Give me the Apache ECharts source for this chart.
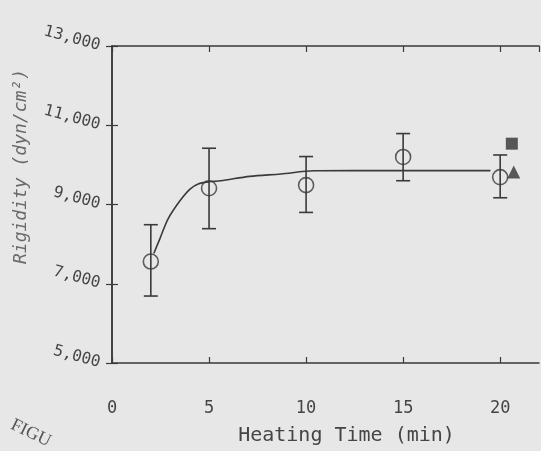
<!DOCTYPE html>
<html>
<head>
<meta charset="utf-8">
<script src="https://cdn.jsdelivr.net/npm/echarts@6/dist/echarts.min.js"></script>
<style>
html,body{margin:0;padding:0;background:#e7e7e7;}
#chart{width:541px;height:451px;}
</style>
</head>
<body>
<div id="chart"></div>
<script>
// Data
const timeMin = [2, 5, 10, 15, 20];
const rigidityMean = [7560, 9410, 9490, 10200, 9690];
const rigidityHigh = [8490, 10420, 10210, 10790, 10250];
const rigidityLow = [6690, 8390, 8800, 9600, 9170];

const squareTime = [20.6];
const squareValue = [10535];
const triangleTime = [20.7];
const triangleValue = [9820];

const curveTime = [2.16, 2.47, 2.89, 3.51, 4.02, 4.44, 5.0, 5.6, 7.1, 8.7, 10.4, 12.5, 15, 17.5, 19.5];
const curveRigidity = [7770, 8140, 8640, 9100, 9390, 9520, 9575, 9600, 9710, 9770, 9850, 9855, 9855, 9855, 9855];

const xTicks = [0, 5, 10, 15, 20];
const yTicks = [5000, 7000, 9000, 11000, 13000];

const ink = '#3a3a3a';
const textInk = '#454545';
const mono = '"DejaVu Sans Mono", "Liberation Mono", monospace';

const chart = echarts.init(document.getElementById('chart'), null, {renderer: 'canvas'});

const meanPts = timeMin.map((t, i) => [t, rigidityMean[i]]);
const errPts = timeMin.map((t, i) => [t, rigidityLow[i], rigidityHigh[i]]);
const curvePts = curveTime.map((t, i) => [t, curveRigidity[i]]);

const xBase = {
  type: 'value', min: 0, max: 22, interval: 5,
  axisLine: {show: true, lineStyle: {color: ink, width: 1.5}},
  axisTick: {show: true, inside: true, length: 6, lineStyle: {color: ink, width: 1.2}},
  splitLine: {show: false}
};
const yBase = {
  type: 'value', min: 5000, max: 13000, interval: 2000,
  axisLine: {show: true, lineStyle: {color: ink, width: 1.5}},
  axisTick: {show: true, inside: true, length: 6, lineStyle: {color: ink, width: 1.2}},
  splitLine: {show: false}
};

chart.setOption({
  backgroundColor: '#e7e7e7',
  animation: false,
  grid: {left: 112, top: 46, right: 2, bottom: 85, containLabel: false},
  xAxis: [
    Object.assign({}, xBase, {
      position: 'bottom',
      name: 'Heating Time (min)',
      nameLocation: 'middle',
      nameGap: 63,
      nameTextStyle: {fontFamily: mono, fontSize: 20, color: textInk, padding: [0, 0, 0, 42]},
      axisLabel: {
        show: true, margin: 37, fontFamily: mono, fontSize: 17, color: textInk,
        showMaxLabel: false,
        formatter: v => (xTicks.indexOf(v) >= 0 ? String(v) : '')
      }
    }),
    Object.assign({}, xBase, {position: 'top', axisLabel: {show: false}})
  ],
  yAxis: [
    Object.assign({}, yBase, {
      position: 'left',
      name: 'Rigidity (dyn/cm²)',
      nameLocation: 'middle',
      nameRotate: 90,
      nameGap: 82,
      nameTextStyle: {fontFamily: mono, fontStyle: 'italic', fontSize: 18, color: '#6a6a6a', padding: [0, 0, 0, 76]},
      axisLabel: {
        show: true, margin: 12, fontFamily: mono, fontSize: 16, color: textInk, rotate: -15,
        formatter: v => (yTicks.indexOf(v) >= 0 ? v.toLocaleString('en-US') : '')
      }
    }),
    Object.assign({}, yBase, {position: 'right', axisLabel: {show: false}})
  ],
  graphic: [{
    type: 'text', left: 8, top: 416, rotation: -0.45,
    style: {text: 'FIGU', font: '18px "Liberation Serif", serif', fill: '#555'}
  }],
  series: [
    {
      type: 'line', data: curvePts, smooth: 0.3, showSymbol: false,
      lineStyle: {color: ink, width: 1.6}, z: 2
    },
    {
      type: 'custom', data: errPts, z: 3,
      renderItem: function (params, api) {
        const x = api.value(0);
        const lo = api.coord([x, api.value(1)]);
        const hi = api.coord([x, api.value(2)]);
        const cap = 7;
        const st = {stroke: ink, lineWidth: 1.6};
        return {
          type: 'group',
          children: [
            {type: 'line', shape: {x1: lo[0], y1: lo[1], x2: hi[0], y2: hi[1]}, style: st},
            {type: 'line', shape: {x1: lo[0] - cap, y1: lo[1], x2: lo[0] + cap, y2: lo[1]}, style: st},
            {type: 'line', shape: {x1: hi[0] - cap, y1: hi[1], x2: hi[0] + cap, y2: hi[1]}, style: st}
          ]
        };
      }
    },
    {
      type: 'scatter', data: meanPts, symbol: 'circle', symbolSize: 15, z: 4,
      itemStyle: {color: 'rgba(0,0,0,0)', borderColor: ink, borderWidth: 1.6}
    },
    {
      type: 'scatter', data: squareTime.map((t, i) => [t, squareValue[i]]),
      symbol: 'rect', symbolSize: 12, z: 4,
      itemStyle: {color: '#333'}
    },
    {
      type: 'scatter', data: triangleTime.map((t, i) => [t, triangleValue[i]]),
      symbol: 'triangle', symbolSize: 13, z: 4,
      itemStyle: {color: '#333'}
    }
  ]
});
</script>
</body>
</html>
